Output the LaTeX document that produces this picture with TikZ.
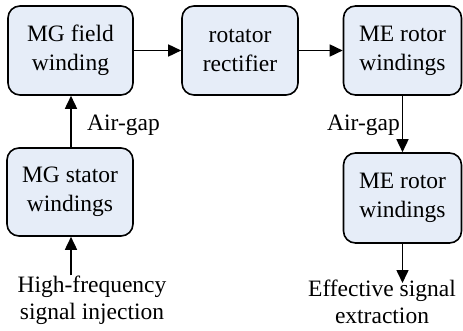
\documentclass[tikz,border=0pt]{standalone}
\usepackage{fontspec}
\setmainfont{Liberation Serif}
\usetikzlibrary{arrows.meta}
\definecolor{boxfill}{RGB}{230,237,248}
\begin{document}
\begin{tikzpicture}[x=1pt,y=-1pt,
  blk/.style={draw=black, line width=1.6pt, rounded corners=12pt, fill=boxfill,
    align=center, inner sep=0pt, font=\fontsize{23.5}{29}\selectfont},
  lbl/.style={align=center, inner sep=0pt, font=\fontsize{23.5}{27}\selectfont},
  arr/.style={line width=1.6pt, -{Triangle[length=13pt,width=12pt]}}]
\useasboundingbox (0,0) rectangle (463,331);
\node[blk, minimum width=125pt, minimum height=89pt] (fw) at (70.5,50.5) {MG field\\winding};
\node[blk, minimum width=116pt, minimum height=89pt] (rr) at (240,50.5) {rotator\\rectifier};
\node[blk, minimum width=118pt, minimum height=89pt] (me1) at (402.5,50.5) {ME rotor\\windings};
\node[blk, minimum width=126pt, minimum height=88pt] (st) at (70,192) {MG stator\\windings};
\node[blk, minimum width=118pt, minimum height=90pt] (me2) at (402.5,198) {ME rotor\\windings};
\node[lbl, anchor=base] (ag1) at (123.5,131) {Air-gap};
\node[lbl, anchor=base] (ag2) at (363.5,131) {Air-gap};
\node[lbl] (inj) at (92,300) {High-frequency\\signal injection};
\node[lbl] (ext) at (382,302) {Effective signal\\extraction};
\draw[arr] (fw) -- (rr);
\draw[arr] (rr) -- (me1);
\draw[arr] (st.north -| 71,0) -- (fw.south -| 71,0);
\draw[arr] (me1) -- (me2);
\draw[arr] (inj.north -| 71,0) -- (st.south -| 71,0);
\coordinate (exttop) at (402.5,283);
\draw[arr] (me2.south) -- (exttop);
\end{tikzpicture}
\end{document}
